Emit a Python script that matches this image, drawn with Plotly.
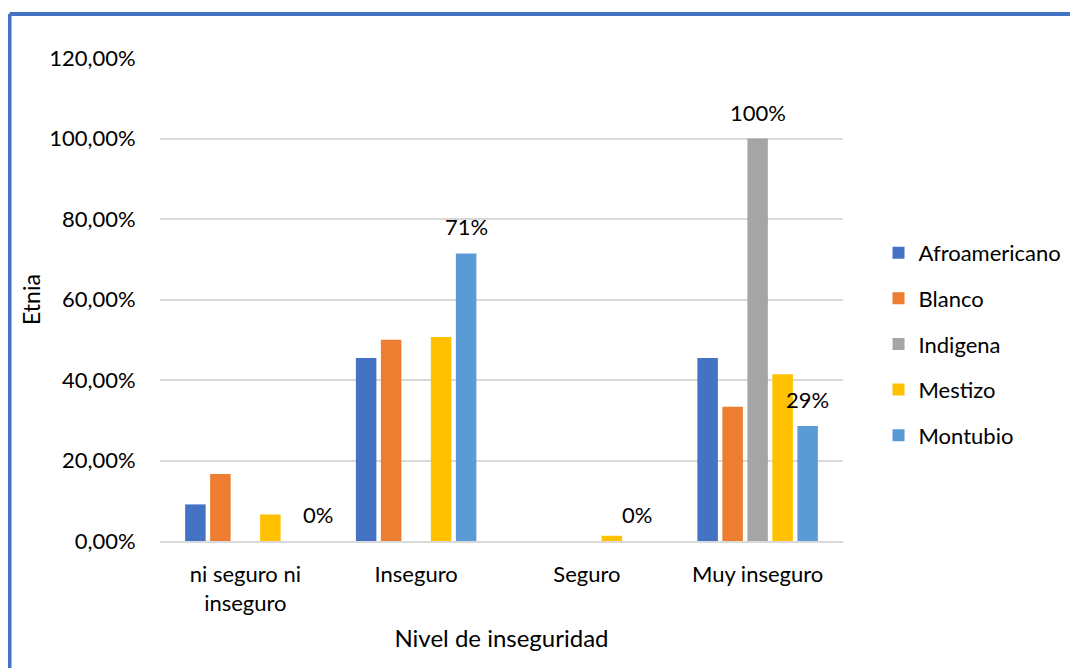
import plotly.graph_objects as go

categories = ["ni seguro ni<br>inseguro", "Inseguro", "Seguro", "Muy inseguro"]
afroamericano = [0.0909, 0.4545, 0.0, 0.4545]
blanco = [0.1667, 0.5000, 0.0, 0.3333]
indigena = [None, None, None, 1.00]
mestizo = [0.066, 0.507, 0.013, 0.414]
montubio = [0.0, 0.7143, 0.0, 0.2857]
y_tickvals = [0, 0.2, 0.4, 0.6, 0.8, 1.0, 1.2]
y_ticktext = ["0,00%", "20,00%", "40,00%", "60,00%", "80,00%", "100,00%", "120,00%"]
# manual nudge of the first Montubio label (as in the reference), in px
montubio_label_xshift = [23, 0, 0, 0]

FONT = "Lato, 'Open Sans', sans-serif"
FS = 22
series = [
    ("Afroamericano", afroamericano, "#4472C4", False),
    ("Blanco", blanco, "#ED7D31", False),
    ("Indigena", indigena, "#A5A5A5", True),
    ("Mestizo", mestizo, "#FFC000", False),
    ("Montubio", montubio, "#5B9BD5", True),
]
BARGAP = 0.268

fig = go.Figure()
annotations = []
n = len(series)
for i, (name, vals, color, labels) in enumerate(series):
    fig.add_trace(go.Bar(x=list(range(len(categories))), y=vals, name=name, marker_color=color,
                         marker_line_width=0, legendgroup=f"g{i}"))
    if labels:
        off = (i - (n - 1) / 2) * (1 - BARGAP) / n
        for j, v in enumerate(vals):
            if v is None:
                continue
            xs = montubio_label_xshift[j] if name == "Montubio" else 0
            annotations.append(dict(x=j + off, y=v, xref="x", yref="y", text=f"{v:.0%}",
                                    showarrow=False, yanchor="bottom", yshift=11, xshift=xs,
                                    font=dict(family=FONT, size=FS, color="#000000")))

# page has an 8px body margin
OFF = 8
W, H = 1078 - OFF, 668 - OFF
ml, mt = 160 - OFF, 58 - OFF
mr = W - (843 - OFF)
mb = H - (541 - OFF)
pw, ph = W - ml - mr, H - mt - mb
bx = (9.5 - OFF - ml) / pw
by = 1 + (mt - (14 - OFF)) / ph

fig.update_layout(
    width=W, height=H,
    margin=dict(l=ml, r=mr, t=mt, b=mb, autoexpand=False),
    paper_bgcolor="white", plot_bgcolor="white",
    font=dict(family=FONT, size=FS, color="#000000"),
    barmode="group", bargap=BARGAP, bargroupgap=0.18,
    annotations=annotations,
    legend=dict(x=1.052, y=0.408, xanchor="left", yanchor="middle",
                font=dict(family=FONT, size=FS, color="#000000"),
                tracegroupgap=14, itemwidth=30, traceorder="grouped"),
    xaxis=dict(showgrid=False, showline=True, linecolor="#D9D9D9", linewidth=1.5,
               tickmode="array", tickvals=list(range(len(categories))), ticktext=categories,
               range=[-0.5, len(categories) - 0.5],
               tickfont=dict(family=FONT, size=FS), ticks="outside", ticklen=13, tickcolor="rgba(0,0,0,0)",
               title=dict(text="Nivel de inseguridad", font=dict(family=FONT, size=24), standoff=15)),
    yaxis=dict(range=[0, 1.2], tickvals=y_tickvals, ticktext=y_ticktext,
               showgrid=True, gridcolor="#D9D9D9", gridwidth=1.5, zeroline=False,
               tickfont=dict(family=FONT, size=FS), ticks="outside", ticklen=19, tickcolor="rgba(0,0,0,0)",
               title=dict(text="Etnia", font=dict(family=FONT, size=23), standoff=2)),
    shapes=[
        dict(type="line", xref="paper", yref="paper", x0=bx, x1=bx, y0=-0.5, y1=by,
             line=dict(color="#4472C4", width=4)),
        dict(type="line", xref="paper", yref="paper", x0=bx, x1=1.6, y0=by, y1=by,
             line=dict(color="#4472C4", width=4)),
    ],
)

fig.write_html("out.html")
